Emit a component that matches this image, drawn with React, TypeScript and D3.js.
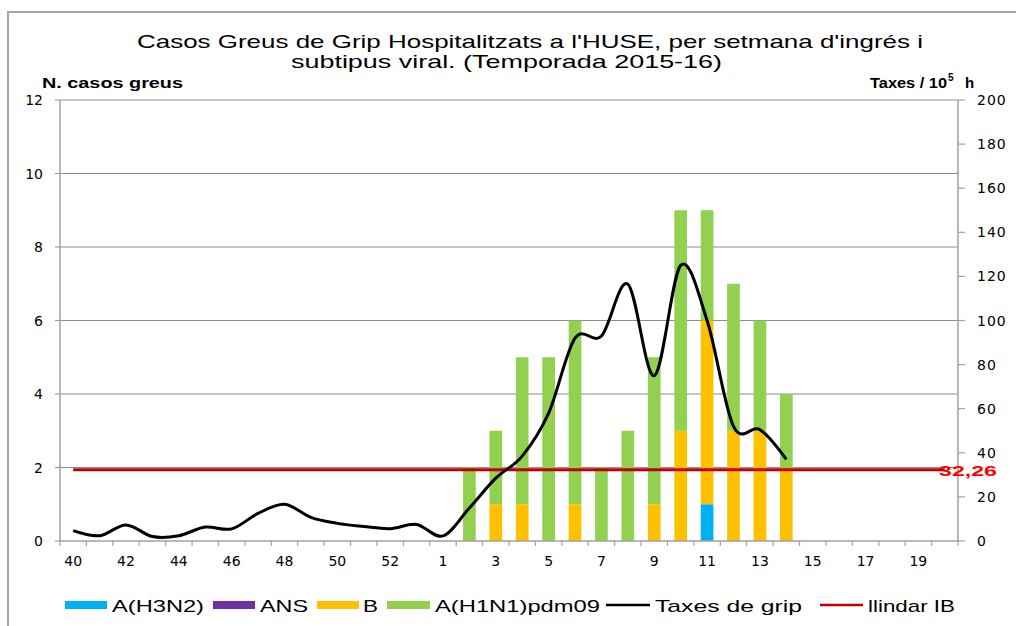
import React from "react";
import * as d3 from "d3";

const weeks = ["40","41","42","43","44","45","46","47","48","49","50","51","52","53","1","2","3","4","5","6","7","8","9","10","11","12","13","14","15","16","17","18","19","20"];
const h3n2 = [0,0,0,0,0,0,0,0,0,0,0,0,0,0,0,0,0,0,0,0,0,0,0,0,1,0,0,0,0,0,0,0,0,0];
const ans  = [0,0,0,0,0,0,0,0,0,0,0,0,0,0,0,0,0,0,0,0,0,0,0,0,0,0,0,0,0,0,0,0,0,0];
const bVir = [0,0,0,0,0,0,0,0,0,0,0,0,0,0,0,0,1,1,0,1,0,0,1,3,5,3,3,2,0,0,0,0,0,0];
const h1n1 = [0,0,0,0,0,0,0,0,0,0,0,0,0,0,0,2,2,4,5,5,2,3,4,6,3,4,3,2,0,0,0,0,0,0];
const taxes: (number | null)[] = [4.7,2.4,7.3,2.0,2.4,6.3,5.5,12.5,16.7,10.7,8.0,6.6,5.6,7.5,2.3,15,28.5,38.5,58,92,93,116.5,75,125,100,52,50.5,37,null,null,null,null,null,null];
const llindar = 32.26;
const llindarLabel = "32,26";
const leftTicks = [0,2,4,6,8,10,12];
const rightTicks = [0,20,40,60,80,100,120,140,160,180,200];
const xLabelWeeks = ["40","42","44","46","48","50","52","1","3","5","7","9","11","13","15","17","19"];

const seriesKeys = ["A(H3N2)", "ANS", "B", "A(H1N1)pdm09"];
const seriesColors = ["#00B0F0", "#7030A0", "#FFC000", "#92D050"];
const title1 = "Casos  Greus de Grip Hospitalitzats a l'HUSE, per setmana  d'ingrés i";
const title2 = "subtipus viral. (Temporada 2015-16)";

const legendItems = [
  { label: "A(H3N2)", color: "#00B0F0", kind: "rect", sx: 65, sw: 42, tx: 112, tw: 92 },
  { label: "ANS", color: "#7030A0", kind: "rect", sx: 213, sw: 42, tx: 260, tw: 48 },
  { label: "B", color: "#FFC000", kind: "rect", sx: 317, sw: 42, tx: 363, tw: 15 },
  { label: "A(H1N1)pdm09", color: "#92D050", kind: "rect", sx: 387, sw: 43, tx: 435, tw: 165 },
  { label: "Taxes  de grip", color: "#000000", kind: "line", sx: 606, sw: 44, tx: 655, tw: 147 },
  { label: "llindar IB", color: "#C00000", kind: "line", sx: 820, sw: 43, tx: 868, tw: 87 },
];

export default function App() {
  const W = 1016, H = 626;
  const x0 = 60, x1 = 958, yTop = 100, yBot = 541;
  const x = d3.scaleBand<string>().domain(weeks).range([x0, x1]).padding(0);
  const bw = x.bandwidth();
  const barW = bw * 0.48;
  const cx = (w: string) => (x(w) as number) + bw / 2;
  const yL = d3.scaleLinear().domain([0, 12]).range([yBot, yTop]);
  const yR = d3.scaleLinear().domain([0, 200]).range([yBot, yTop]);

  const rows = weeks.map((w, i) => ({ w, "A(H3N2)": h3n2[i], ANS: ans[i], B: bVir[i], "A(H1N1)pdm09": h1n1[i] }));
  const stacked = d3.stack<any>().keys(seriesKeys)(rows);

  const linePts = weeks.map((w, i) => ({ w, v: taxes[i] })).filter(d => d.v !== null) as { w: string; v: number }[];
  const lineGen = d3.line<{ w: string; v: number }>().x(d => cx(d.w)).y(d => yR(d.v)).curve(d3.curveCardinal.tension(0));
  const grey = "#A0A0A0";
  const tickFont = "'DejaVu Sans', Verdana, sans-serif";
  const sans = "'Liberation Sans', Arial, sans-serif";

  return (
    <svg width={W} height={H} style={{ position: "absolute", left: 0, top: 0, background: "#fff" }}>
      <rect x={8} y={12} width={1030} height={660} fill="none" stroke="#A6A6A6" strokeWidth={2} />
      <text x={137} y={48} fontFamily={sans} fontSize={19} textLength={786} lengthAdjust="spacingAndGlyphs">{title1}</text>
      <text x={291} y={68} fontFamily={sans} fontSize={19} textLength={431} lengthAdjust="spacingAndGlyphs">{title2}</text>
      <text x={42} y={88} fontFamily={sans} fontSize={15} fontWeight="bold" textLength={141} lengthAdjust="spacingAndGlyphs">N. casos  greus</text>
      <text x={870} y={88} fontFamily={sans} fontSize={15} fontWeight="bold" textLength={77} lengthAdjust="spacingAndGlyphs">Taxes / 10</text>
      <text x={948} y={81} fontFamily={sans} fontSize={10} fontWeight="bold">5</text>
      <text x={965} y={88} fontFamily={sans} fontSize={15} fontWeight="bold">h</text>

      {leftTicks.filter(t => t > 0).map(t => (
        <line key={"g" + t} x1={x0} x2={x1} y1={yL(t)} y2={yL(t)} stroke="#8C8C8C" strokeWidth={1.2} />
      ))}
      <line x1={x0} x2={x0} y1={yTop} y2={yBot} stroke={grey} strokeWidth={1.5} />
      <line x1={x1} x2={x1} y1={yTop} y2={yBot} stroke={grey} strokeWidth={1.5} />
      {leftTicks.map(t => (
        <g key={"l" + t}>
          <line x1={x0 - 5} x2={x0} y1={yL(t)} y2={yL(t)} stroke={grey} strokeWidth={1.2} />
          <text x={43} y={yL(t) + 5} textAnchor="end" fontFamily={tickFont} fontSize={14}>{t}</text>
        </g>
      ))}
      {rightTicks.map(t => (
        <g key={"r" + t}>
          <line x1={x1} x2={x1 + 7} y1={yR(t)} y2={yR(t)} stroke={grey} strokeWidth={1.2} />
          <text x={977} y={yR(t) + 5} textAnchor="start" fontFamily={tickFont} fontSize={14} letterSpacing={1}>{t}</text>
        </g>
      ))}

      {stacked.map((s, si) => (
        <g key={s.key} fill={seriesColors[si]}>
          {s.map((d, i) => d[1] - d[0] > 0 ? (
            <rect key={i} x={cx(weeks[i]) - barW / 2} width={barW} y={yL(d[1])} height={yL(d[0]) - yL(d[1])} />
          ) : null)}
        </g>
      ))}

      <line x1={x0} x2={x1} y1={yBot} y2={yBot} stroke={grey} strokeWidth={1.5} />
      {d3.range(weeks.length + 1).map(i => (
        <line key={"xt" + i} x1={x0 + i * bw} x2={x0 + i * bw} y1={yBot} y2={yBot + 5} stroke={grey} strokeWidth={1.2} />
      ))}
      {xLabelWeeks.map(w => (
        <text key={"xl" + w} x={cx(w)} y={566} textAnchor="middle" fontFamily={tickFont} fontSize={14}>{w}</text>
      ))}

      <line x1={cx(weeks[0])} x2={cx(weeks[weeks.length - 1])} y1={yR(llindar)} y2={yR(llindar)} stroke="#C00000" strokeWidth={3} />
      <path d={lineGen(linePts) || ""} fill="none" stroke="#000" strokeWidth={3} />
      <text x={939} y={476} fontFamily={sans} fontSize={15} fontWeight="bold" fill="#FF0000" textLength={58} lengthAdjust="spacingAndGlyphs">{llindarLabel}</text>

      {legendItems.map(it => (
        <g key={it.label}>
          {it.kind === "rect" ? (
            <rect x={it.sx} y={601} width={it.sw} height={8} fill={it.color} />
          ) : (
            <line x1={it.sx} x2={it.sx + it.sw} y1={605} y2={605} stroke={it.color} strokeWidth={2.5} />
          )}
          <text x={it.tx} y={612} fontFamily={sans} fontSize={17} textLength={it.tw} lengthAdjust="spacingAndGlyphs">{it.label}</text>
        </g>
      ))}
    </svg>
  );
}
